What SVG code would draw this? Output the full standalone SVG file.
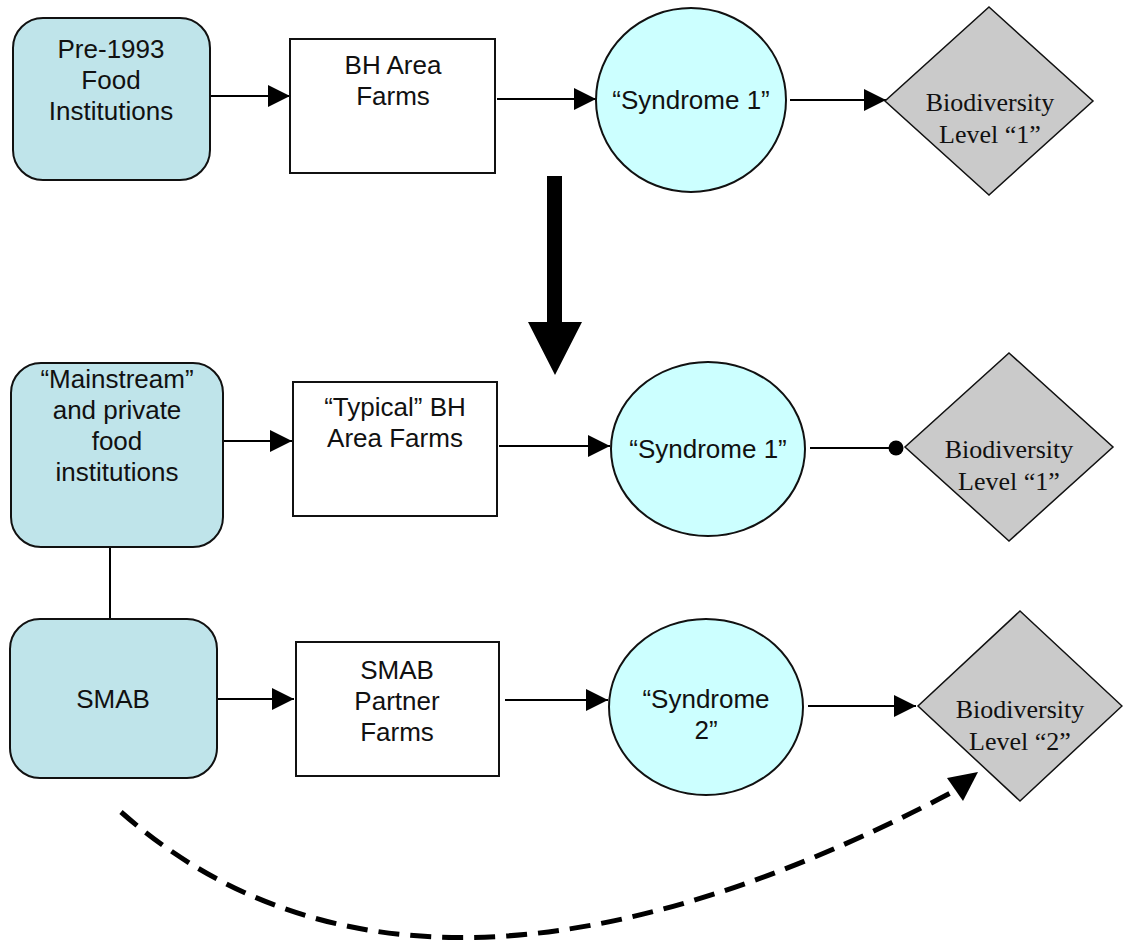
<svg xmlns="http://www.w3.org/2000/svg" width="1123" height="940" viewBox="0 0 1123 940">
<defs>
<style>
.inst{fill:#bfe4ea;stroke:#111;stroke-width:2}
.farm{fill:#fff;stroke:#111;stroke-width:2}
.syn{fill:#ccffff;stroke:#111;stroke-width:2}
.bio{fill:#cacaca;stroke:#111;stroke-width:1.5}
.t{font-family:"Liberation Sans",Arial,sans-serif;font-size:26px;fill:#111;text-anchor:middle}
.tb{font-family:"Liberation Serif","Times New Roman",serif;font-size:26px;fill:#111;text-anchor:middle}
.c{stroke:#000;stroke-width:2;fill:none}
.d{stroke:#000;stroke-width:5;fill:none;stroke-dasharray:21 11}
</style>
<marker id="ah" viewBox="0 0 22 22" refX="22" refY="11" markerWidth="22" markerHeight="22" markerUnits="userSpaceOnUse" orient="auto">
<path d="M0,0 L22,11 L0,22 Z" fill="#000"/>
</marker>
<marker id="dot" viewBox="0 0 16 16" refX="8" refY="8" markerWidth="16" markerHeight="16" markerUnits="userSpaceOnUse">
<circle cx="8" cy="8" r="7.5" fill="#000"/>
</marker>
</defs>
<rect width="1123" height="940" fill="#fff"/>

<g id="connectors">
<line class="c" x1="210" y1="96" x2="290" y2="96" marker-end="url(#ah)"/>
<line class="c" x1="497" y1="99" x2="596" y2="99" marker-end="url(#ah)"/>
<line class="c" x1="790" y1="100" x2="886" y2="100" marker-end="url(#ah)"/>
<polygon id="big-arrow" points="547,176 562,176 562,322 582,322 555,375 528,322 547,322" fill="#000"/>
<line class="c" x1="223" y1="441" x2="292" y2="441" marker-end="url(#ah)"/>
<line class="c" x1="499" y1="446" x2="610" y2="446" marker-end="url(#ah)"/>
<line class="c" x1="810" y1="448" x2="896" y2="448" marker-end="url(#dot)"/>
<line class="c" x1="110" y1="547" x2="110" y2="619"/>
<line class="c" x1="217" y1="699" x2="294" y2="699" marker-end="url(#ah)"/>
<line class="c" x1="505" y1="700" x2="608" y2="700" marker-end="url(#ah)"/>
<line class="c" x1="808" y1="706" x2="916" y2="706" marker-end="url(#ah)"/>
<path class="d" d="M121,812 Q420,1075 962,787"/>
<path d="M947,778 L978,772 L963,801 Z" fill="#000"/>
</g>

<g id="pre1993">
<rect class="inst" x="13" y="18" width="197" height="162" rx="30"/>
<text class="t" x="111" y="58">Pre-1993</text>
<text class="t" x="111" y="89">Food</text>
<text class="t" x="111" y="120">Institutions</text>
</g>
<g id="bh-farms">
<rect class="farm" x="290" y="39" width="205" height="134"/>
<text class="t" x="393" y="74">BH Area</text>
<text class="t" x="393" y="105">Farms</text>
</g>
<g id="syndrome1-top">
<ellipse class="syn" cx="691" cy="100" rx="95" ry="92"/>
<text class="t" x="691" y="109">“Syndrome 1”</text>
</g>
<g id="bio1-top">
<polygon class="bio" points="989,7 1093,101 989,195 885,101"/>
<text class="tb" x="990" y="111">Biodiversity</text>
<text class="tb" x="990" y="143">Level “1”</text>
</g>

<g id="mainstream">
<rect class="inst" x="11" y="363" width="212" height="184" rx="30"/>
<text class="t" x="117" y="388">“Mainstream”</text>
<text class="t" x="117" y="419">and private</text>
<text class="t" x="117" y="450">food</text>
<text class="t" x="117" y="481">institutions</text>
</g>
<g id="typical-farms">
<rect class="farm" x="293" y="382" width="204" height="134"/>
<text class="t" x="395" y="416">“Typical” BH</text>
<text class="t" x="395" y="447">Area Farms</text>
</g>
<g id="syndrome1-mid">
<ellipse class="syn" cx="708" cy="449" rx="97" ry="87"/>
<text class="t" x="708" y="458">“Syndrome 1”</text>
</g>
<g id="bio1-mid">
<polygon class="bio" points="1009,353 1113,447 1009,541 905,447"/>
<text class="tb" x="1009" y="458">Biodiversity</text>
<text class="tb" x="1009" y="490">Level “1”</text>
</g>

<g id="smab">
<rect class="inst" x="10" y="619" width="207" height="159" rx="30"/>
<text class="t" x="113" y="708">SMAB</text>
</g>
<g id="smab-farms">
<rect class="farm" x="296" y="642" width="203" height="134"/>
<text class="t" x="397" y="679">SMAB</text>
<text class="t" x="397" y="710">Partner</text>
<text class="t" x="397" y="741">Farms</text>
</g>
<g id="syndrome2">
<ellipse class="syn" cx="706" cy="707" rx="97" ry="88"/>
<text class="t" x="706" y="708">“Syndrome</text>
<text class="t" x="706" y="739">2”</text>
</g>
<g id="bio2">
<polygon class="bio" points="1020,611 1122,706 1020,801 918,706"/>
<text class="tb" x="1020" y="718">Biodiversity</text>
<text class="tb" x="1020" y="750">Level “2”</text>
</g>
</svg>
